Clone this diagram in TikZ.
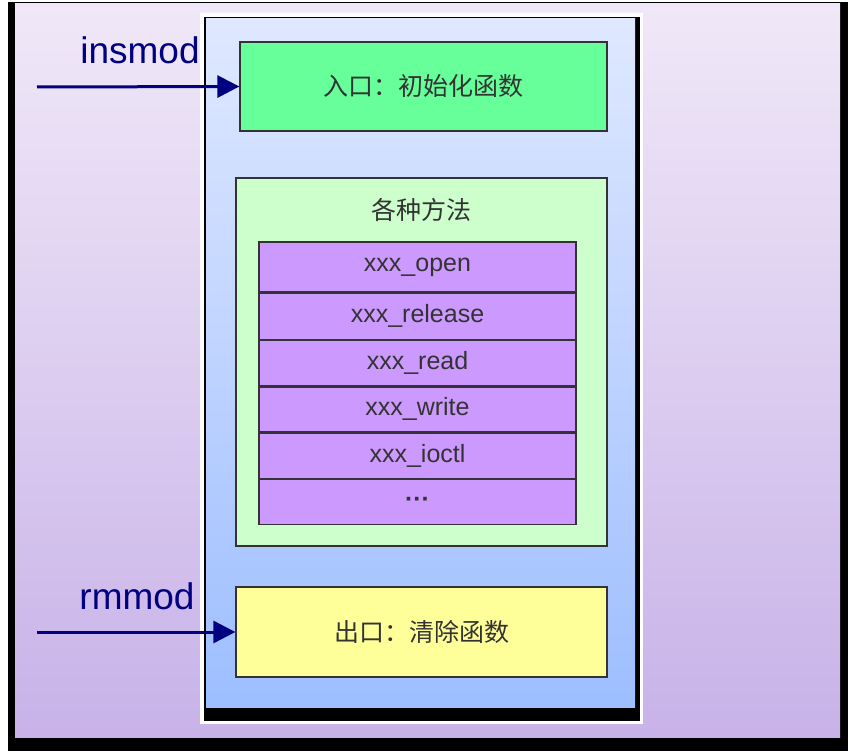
\documentclass[tikz,border=0pt]{standalone}
\usepackage{fontspec}
\setmainfont{Liberation Sans}
\newfontfamily\cjk{Noto Sans CJK SC}
\usepackage{tikz}
\usetikzlibrary{arrows.meta}

\definecolor{navyarrow}{HTML}{000080}
\definecolor{entrygreen}{HTML}{66FF99}
\definecolor{methodgreen}{HTML}{CCFFCC}
\definecolor{methodpurple}{HTML}{CC99FF}
\definecolor{exityellow}{HTML}{FFFF99}
\definecolor{boxline}{HTML}{333333}
\definecolor{frametop}{HTML}{F0E8F8}
\definecolor{framebottom}{HTML}{C8B2E8}
\definecolor{paneltop}{HTML}{DFE8FF}
\definecolor{panelbottom}{HTML}{9DBEFF}

\tikzset{
  box/.style={draw=boxline,line width=1.3pt,inner sep=0pt,font=\fontsize{25}{28}\selectfont\cjk,text=black!80},
  method/.style={box,fill=methodpurple,minimum width=317pt,font=\fontsize{25}{28}\selectfont},
  call/.style={navyarrow,line width=3pt,-{Triangle[length=22pt,width=22pt]}},
  cmd/.style={text=navyarrow,font=\fontsize{37}{40}\selectfont,inner sep=0pt}
}

\begin{document}
\begin{tikzpicture}[x=1pt,y=-1pt]
    \useasboundingbox (0,0) rectangle (853,754);
    % outer frame
    \fill[black] (8,2) rectangle (848,751);
    \shade[top color=frametop,bottom color=framebottom] (15,4) rectangle (840,737);
    % module panel
    \fill[white] (200,13) rectangle (643,724);
    \fill[black] (204,17) rectangle (640,721);
    \shade[top color=paneltop,bottom color=panelbottom] (206,19) rectangle (635,707);
    % boxes
    \node[box,fill=entrygreen,minimum width=367pt,minimum height=89pt] (entry) at (423.5,86.5) {入口：初始化函数};
    \node[box,fill=methodgreen,minimum width=371pt,minimum height=368pt] (methods) at (421.5,362) {};
    \node[box,draw=none] (title) at (421.5,210) {各种方法};
    \node[method,minimum height=50pt] (open) at (417.5,267) {xxx\_open};
    \node[method,minimum height=46pt,anchor=north] (release) at (open.south) {xxx\_release};
    \node[method,minimum height=45pt,anchor=north] (read) at (release.south) {xxx\_read};
    \node[method,minimum height=45pt,anchor=north] (write) at (read.south) {xxx\_write};
    \node[method,minimum height=45pt,anchor=north] (ioctl) at (write.south) {xxx\_ioctl};
    \node[method,minimum height=45pt,anchor=north] (more) at (ioctl.south) {\textbf{···}};
    \node[box,fill=exityellow,minimum width=371pt,minimum height=90pt] (exit) at (421.5,632) {出口：清除函数};
    % commands
    \node[cmd] (insmod) at (140,50) {insmod};
    \node[cmd] (rmmod) at (137,596) {rmmod};
    \coordinate (insin) at (37,87);
    \coordinate (rmin) at (37,632);
    \draw[call] (insin) -- (entry.west);
    \draw[call] (rmin) -- (exit.west);
\end{tikzpicture}
\end{document}
